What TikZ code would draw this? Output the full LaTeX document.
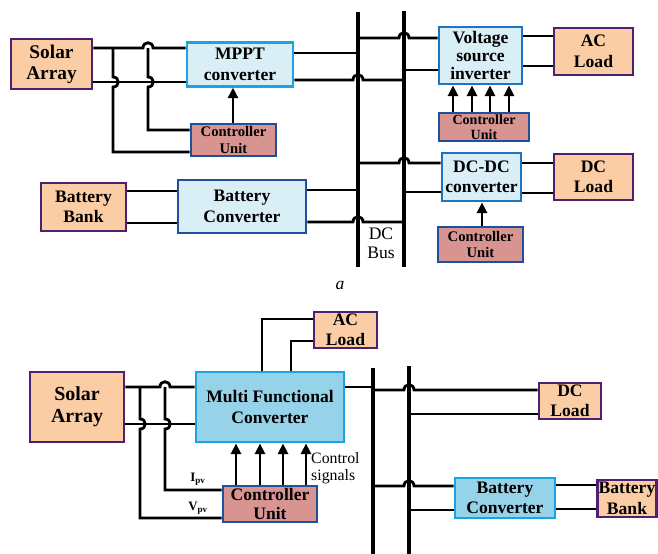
\documentclass[tikz,border=0pt]{standalone}
\usepackage{fontspec}
\setmainfont{Liberation Serif}
\usepackage{tikz}
\usetikzlibrary{arrows.meta, positioning}
\definecolor{cPeach}{RGB}{250,205,165}
\definecolor{cPurple}{RGB}{78,32,112}
\definecolor{cIce}{RGB}{218,238,245}
\definecolor{cSky}{RGB}{150,210,232}
\definecolor{cCyan}{RGB}{25,165,225}
\definecolor{cBlue}{RGB}{30,115,195}
\definecolor{cNavy}{RGB}{30,80,155}
\definecolor{cRose}{RGB}{215,148,145}
% small hop of a wire over a crossing one
\newcommand{\hopup}[2]{-- (#1-5,#2) .. controls (#1-5,#2-7) and (#1+5,#2-7) .. (#1+5,#2)}
\newcommand{\hopright}[2]{-- (#1,#2-5) .. controls (#1+7,#2-5) and (#1+7,#2+5) .. (#1,#2+5)}
\tikzset{
	sz/.style 2 args={minimum width=#1cm, minimum height=#2cm},
	srcbox/.style   ={rectangle, draw=cPurple, fill=cPeach, line width=2.5pt, align=center, inner sep=0pt, font=\bfseries\fontsize{15}{17.5}\selectfont},
	convbox/.style  ={rectangle, draw=cCyan, fill=cIce, line width=2.5pt, align=center, inner sep=0pt, font=\bfseries\fontsize{15}{17.5}\selectfont},
	ctrlbox/.style  ={rectangle, draw=cNavy, fill=cRose, line width=2.5pt, align=center, inner sep=0pt, font=\bfseries\fontsize{12.5}{14}\selectfont},
	wire/.style     ={line width=2.4pt, black},
	bus/.style      ={line width=2.8pt, black},
	sigarrow/.style ={-{Triangle[length=9pt, width=8.5pt]}, line width=2.4pt},
	lbl/.style      ={align=center, inner sep=0pt, font=\fontsize{15}{16.5}\selectfont},
}
\begin{document}
\begin{tikzpicture}[x=0.03cm, y=-0.03cm]
	\useasboundingbox (0,0) rectangle (658,554);
	% ---------- (a) ----------
	\node[srcbox, sz={2.43}{1.50}, font=\bfseries\fontsize{16.5}{18}\selectfont] (solarA) at (51.5,64) {Solar\\Array};
	\node[convbox, sz={3.18}{1.30}] (mppt) at (240,64.5) {MPPT\\converter};
	\node[ctrlbox, sz={2.55}{0.96}] (ctrlA) at (233.5,140) {Controller\\Unit};
	\node[srcbox, sz={2.55}{1.44}] (bankA) at (83.5,207) {Battery\\Bank};
	\node[convbox, sz={3.84}{1.59}, draw=cNavy] (bconvA) at (242,206.5) {Battery\\Converter};
	\node[convbox, sz={2.49}{1.71}, draw=cBlue, font=\bfseries\fontsize{15}{15.5}\selectfont] (vsi) at (480.5,55.5) {Voltage\\source\\inverter};
	\node[srcbox, sz={2.37}{1.41}] (acloadA) at (593.5,51.5) {AC\\Load};
	\node[ctrlbox, sz={2.70}{0.84}, font=\bfseries\fontsize{12}{12.5}\selectfont] (ctrlB) at (484,127) {Controller\\Unit};
	\node[convbox, sz={2.37}{1.44}, draw=cBlue] (dcdc) at (481.5,177) {DC-DC\\converter};
	\node[srcbox, sz={2.37}{1.38}] (dcloadA) at (593.5,177) {DC\\Load};
	\node[ctrlbox, sz={2.55}{1.05}] (ctrlC) at (480.5,244.5) {Controller\\Unit};
	% DC bus
	\coordinate (b1t) at (358,12);
	\coordinate (b1b) at (358,267);
	\coordinate (b2t) at (404,11);
	\coordinate (b2b) at (404,267);
	\draw[bus] (b1t) -- (b1b);
	\draw[bus] (b2t) -- (b2b);
	\node[lbl] (buslbl) at (381,243) {DC\\Bus};
	% solar side
	\draw[wire] (solarA.east |- 0,48) \hopup{148}{48} -- (mppt.west |- 0,48);
	\draw[wire] (solarA.east |- 0,82) -- (mppt.west |- 0,82);
	\coordinate (jA1) at (113,48);
	\coordinate (jA2) at (148,48);
	\draw[wire] (jA1) \hopright{113}{82} |- (ctrlA.west |- 0,152);
	\draw[wire] (jA2) \hopright{148}{82} |- (ctrlA.west |- 0,130);
	\draw[sigarrow] (ctrlA.north -| 233,0) -- (mppt.south -| 233,0);
	\draw[wire] (mppt.east |- 0,53) -- (b1t |- 0,53);
	\draw[wire] (mppt.east |- 0,80) \hopup{358}{80} -- (b2t |- 0,80);
	% battery side
	\draw[wire] (bankA.east |- 0,191) -- (bconvA.west |- 0,191);
	\draw[wire] (bankA.east |- 0,223) -- (bconvA.west |- 0,223);
	\draw[wire] (bconvA.east |- 0,190) -- (b1t |- 0,190);
	\draw[wire] (bconvA.east |- 0,222) \hopup{358}{222} -- (b2t |- 0,222);
	% load side
	\draw[wire] (b1t |- 0,38) \hopup{404}{38} -- (vsi.west |- 0,38);
	\draw[wire] (b2t |- 0,70) -- (vsi.west |- 0,70);
	\draw[wire] (vsi.east |- 0,36) -- (acloadA.west |- 0,36);
	\draw[wire] (vsi.east |- 0,66) -- (acloadA.west |- 0,66);
	\foreach \x in {453,472,490,509}
		\draw[sigarrow] (ctrlB.north -| \x,0) -- (vsi.south -| \x,0);
	\draw[wire] (b1t |- 0,163) \hopup{404}{163} -- (dcdc.west |- 0,163);
	\draw[wire] (b2t |- 0,192) -- (dcdc.west |- 0,192);
	\draw[wire] (dcdc.east |- 0,163) -- (dcloadA.west |- 0,163);
	\draw[wire] (dcdc.east |- 0,193) -- (dcloadA.west |- 0,193);
	\draw[sigarrow] (ctrlC.north -| 482,0) -- (dcdc.south -| 482,0);
	\node[lbl, font=\itshape\fontsize{15}{16}\selectfont] (capA) at (340,285) {a};
	% ---------- (b) ----------
	\node[srcbox, sz={2.82}{2.10}, font=\bfseries\fontsize{17}{19}\selectfont] (solarB) at (77,407) {Solar\\Array};
	\node[convbox, sz={4.44}{2.10}, fill=cSky] (mfc) at (270,407) {Multi Functional\\Converter};
	\node[srcbox, sz={1.89}{1.08}] (acloadB) at (345.5,330) {AC\\Load};
	\node[ctrlbox, sz={2.82}{1.08}, font=\bfseries\fontsize{15}{16}\selectfont] (ctrlD) at (270,504) {Controller\\Unit};
	\node[srcbox, sz={1.86}{1.08}] (dcloadB) at (570,401) {DC\\Load};
	\node[convbox, sz={3.00}{1.20}, fill=cSky] (bconvB) at (505,498) {Battery\\Converter};
	\node[srcbox, sz={1.77}{1.11}] (bankB) at (627,498.5) {Battery\\Bank};
	% DC bus
	\coordinate (b3t) at (373,368);
	\coordinate (b3b) at (373,554);
	\coordinate (b4t) at (409,366);
	\coordinate (b4b) at (409,554);
	\draw[bus] (b3t) -- (b3b);
	\draw[bus] (b4t) -- (b4b);
	% solar side
	\draw[wire] (solarB.east |- 0,387) \hopup{165}{387} -- (mfc.west |- 0,387);
	\draw[wire] (solarB.east |- 0,424) -- (mfc.west |- 0,424);
	\coordinate (jB1) at (140,387);
	\coordinate (jB2) at (165,387);
	\draw[wire] (jB1) \hopright{140}{424} |- (ctrlD.west |- 0,518);
	\draw[wire] (jB2) \hopright{165}{424} |- (ctrlD.west |- 0,490);
	\node[inner sep=0pt, font=\bfseries\fontsize{11}{12}\selectfont] (ipv) at (198,479) {I\textsubscript{pv}};
	\node[inner sep=0pt, font=\bfseries\fontsize{11}{12}\selectfont] (vpv) at (198,508) {V\textsubscript{pv}};
	\foreach \x in {236,260,283,306}
		\draw[sigarrow] (ctrlD.north -| \x,0) -- (mfc.south -| \x,0);
	\node[anchor=west, align=left, inner sep=0pt, font=\fontsize{13.5}{14.5}\selectfont] (ctlsig) at (311,468) {Control\\signals};
	% loads and battery
	\draw[wire] (mfc.north -| 262,0) |- (acloadB.west |- 0,319);
	\draw[wire] (mfc.north -| 291,0) |- (acloadB.west |- 0,341);
	\draw[wire] (mfc.east |- 0,387) -- (b3t |- 0,387);
	\draw[wire] (b3t |- 0,390) \hopup{409}{390} -- (dcloadB.west |- 0,390);
	\draw[wire] (b4t |- 0,414) -- (dcloadB.west |- 0,414);
	\draw[wire] (b3t |- 0,486) \hopup{409}{486} -- (bconvB.west |- 0,486);
	\draw[wire] (b4t |- 0,510) -- (bconvB.west |- 0,510);
	\draw[wire] (bconvB.east |- 0,485) -- (bankB.west |- 0,485);
	\draw[wire] (bconvB.east |- 0,509) -- (bankB.west |- 0,509);
\end{tikzpicture}
\end{document}
